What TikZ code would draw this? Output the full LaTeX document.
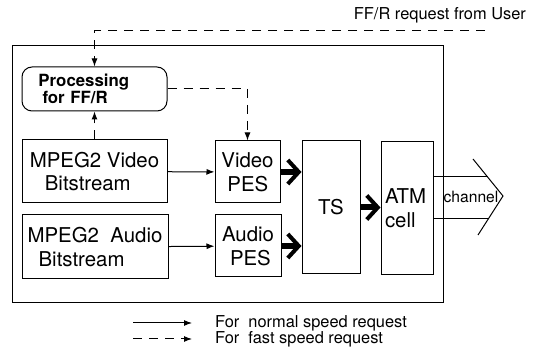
\documentclass[tikz,border=0pt]{standalone}
\usepackage{fontspec}
\setmainfont{TeX Gyre Heros}
\usetikzlibrary{arrows.meta,positioning}

\begin{document}
\begin{tikzpicture}[x=0.5pt,y=-0.5pt,
  >={Latex[length=4pt,width=3pt]},
  bx/.style={draw,line width=0.5pt,inner sep=0pt,font=\fontsize{10.2}{11.8}\selectfont},
  src/.style={bx,align=left,minimum width=72.5pt,minimum height=31.5pt},
  pes/.style={bx,align=left,minimum width=32.5pt,minimum height=31pt},
  tall/.style={bx,minimum height=66.5pt},
  pr/.style={draw,line width=0.5pt,rounded corners=5pt,inner sep=0pt,align=left,text width=56pt,
    minimum width=72.5pt,minimum height=22pt,font=\fontsize{8.4}{8.8}\selectfont\bfseries},
  fast/.style={line width=0.5pt,dash pattern=on 4.5pt off 3.5pt},
  norm/.style={line width=0.5pt},
  fat/.style={line width=3pt,-{Straight Barb[length=5.5pt,width=12pt,line width=2pt]}},
  lbl/.style={font=\fontsize{8.2}{10}\selectfont}]
\useasboundingbox (0,0) rectangle (542,352);
% outer frame
\node[draw,line width=0.5pt,minimum width=215.5pt,minimum height=128.5pt,inner sep=0pt] (frame) at (227.5,174.5) {};
% blocks
\node[pr] (proc) at (94.5,89) {Processing\\\hspace*{2pt}for FF/R};
\node[src] (vid) at (94.5,171.5) {MPEG2 Video\\\hspace*{7.5pt}Bitstream};
\node[src,minimum width=73pt,minimum height=32pt] (aud) at (95,247) {MPEG2\ \ Audio\\\hspace*{5.5pt}Bitstream};
\node[pes] (vpes) at (247.5,172) {Video\\\hspace*{3pt}PES};
\node[pes,minimum width=33pt] (apes) at (248,246) {Audio\\\hspace*{4pt}PES};
\node[tall,minimum width=29pt] (ts) at (331,207.5) {TS};
\node[tall,minimum width=26pt,align=left,text width=22pt] (atm) at (407,208.5) {ATM\\cell};
% request from user
\node[lbl,anchor=east] (req) at (533,15) {FF/R request from User};
\coordinate (usr) at (485,31);
\draw[fast,->] (usr) -| (proc.north);
\draw[fast,->] (vid.north) -- (proc.south);
\draw[fast,->] (proc.east) -| (vpes.north);
% data path
\foreach \x/\y in {vid/vpes,aud/apes} \draw[norm,->] (\x) -- (\y);
\foreach \x/\y in {vpes/ts,apes/ts,ts/atm} \draw[fat] (\x.east) -- (\x.east -| \y.west);
% channel
\coordinate (chu) at (488,177);
\coordinate (chl) at (488,219);
\coordinate (cht) at (473,159);
\coordinate (chp) at (503,196);
\coordinate (chb) at (478,235);
\draw[norm] (atm.east |- chu) -- (chu);
\draw[norm] (atm.east |- chl) -- (chl);
\draw[norm] (cht) -- (chp) -- (chb);
\node[font=\fontsize{7.8}{9}\selectfont,inner sep=0pt] (chan) at (471,197) {channel};
% legend
\coordinate (n1) at (133,323);
\coordinate (n2) at (192,323);
\coordinate (f1) at (133,339);
\coordinate (f2) at (192,339);
\draw[norm,->] (n1) -- (n2);
\draw[fast,->] (f1) -- (f2);
\node[lbl,anchor=west] (nt) at (208,323) {For\ \ normal speed request};
\node[lbl,anchor=west] (ft) at (208,339) {For\ \ fast speed request};
\end{tikzpicture}
\end{document}
